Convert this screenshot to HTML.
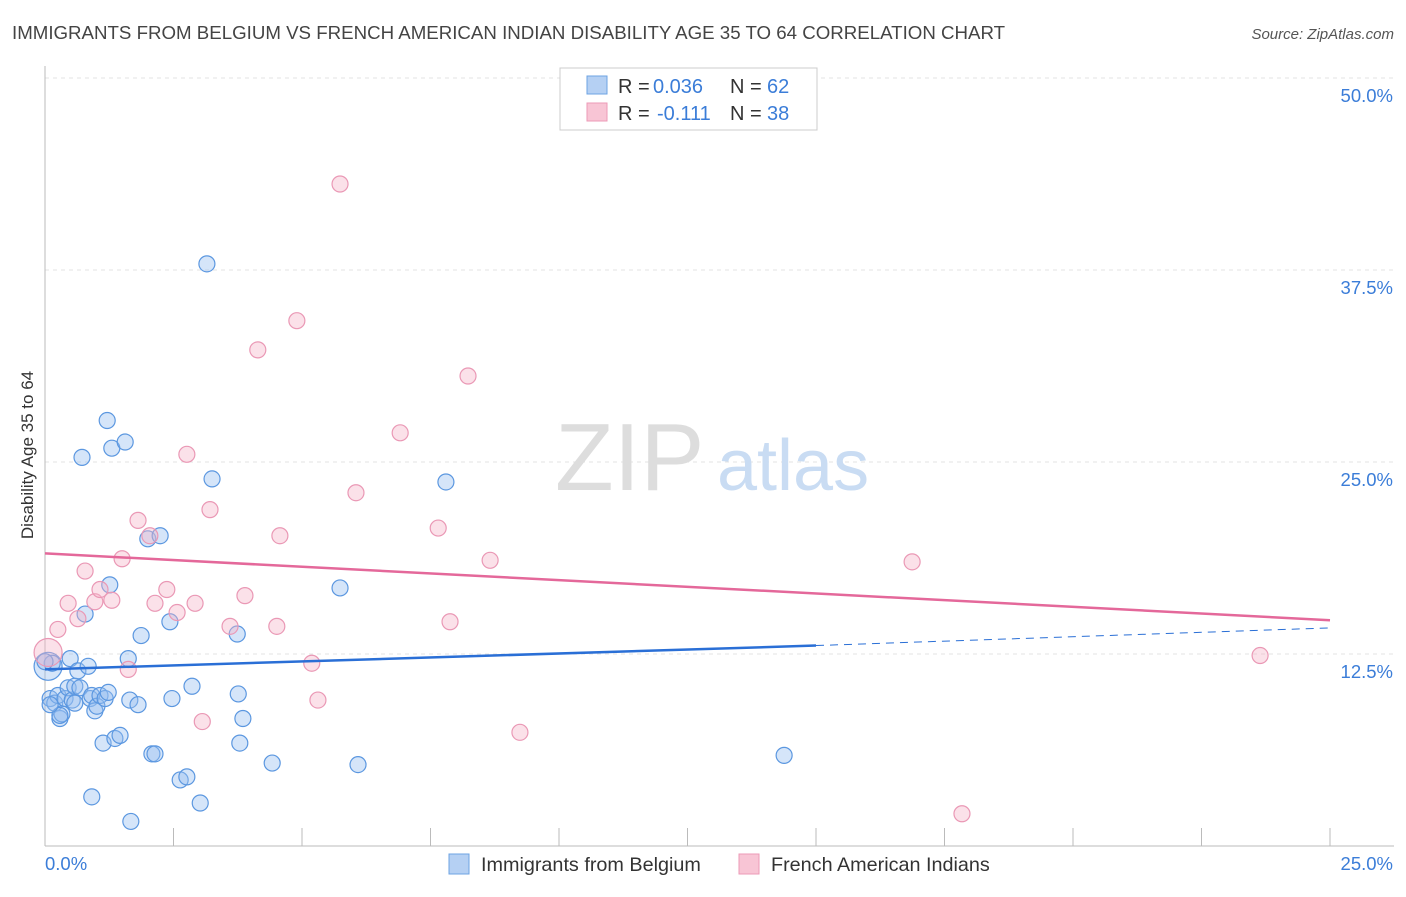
<!DOCTYPE html>
<html><head><meta charset="utf-8"><style>
body{margin:0;background:#fff;font-family:"Liberation Sans",sans-serif;}
svg text{font-family:"Liberation Sans",sans-serif;}
</style></head><body>
<svg id="chart" width="1406" height="892" xmlns="http://www.w3.org/2000/svg">
<text x="12" y="39" font-size="18.7" fill="#444">IMMIGRANTS FROM BELGIUM VS FRENCH AMERICAN INDIAN DISABILITY AGE 35 TO 64 CORRELATION CHART</text>
<text x="1394" y="39" font-size="15" fill="#555" text-anchor="end" font-style="italic">Source: ZipAtlas.com</text>
<g id="grid"></g>
<text x="555" y="490" font-size="96" font-family="Liberation Serif" fill="#ddd">ZIP</text>
<text x="717" y="490" font-size="72" fill="#c9dcf3">atlas</text>
<g id="pts"></g>
<g id="lines"></g>
<text transform="translate(33,455) rotate(-90)" font-size="17" fill="#333" text-anchor="middle">Disability Age 35 to 64</text>
<g>
<rect x="560" y="68" width="257" height="62" fill="#fff" stroke="#ccc"/>
<rect x="587" y="76" width="20" height="18" fill="#b5d0f3" stroke="#6da3e3"/>
<rect x="587" y="103" width="20" height="18" fill="#f8c5d5" stroke="#ec9ab7"/>
<text x="618" y="93" font-size="20" fill="#333">R =</text>
<text x="653" y="93" font-size="20" fill="#3b7dd8">0.036</text>
<text x="730" y="93" font-size="20" fill="#333">N =</text>
<text x="767" y="93" font-size="20" fill="#3b7dd8">62</text>
<text x="618" y="120" font-size="20" fill="#333">R =</text>
<text x="657" y="120" font-size="20" fill="#3b7dd8">-0.111</text>
<text x="730" y="120" font-size="20" fill="#333">N =</text>
<text x="767" y="120" font-size="20" fill="#3b7dd8">38</text>
</g>
<g>
<rect x="449" y="854" width="20" height="20" fill="#b5d0f3" stroke="#6da3e3"/>
<text x="481" y="871" font-size="19.8" fill="#333">Immigrants from Belgium</text>
<rect x="739" y="854" width="20" height="20" fill="#f8c5d5" stroke="#ec9ab7"/>
<text x="771" y="871" font-size="19.8" fill="#333">French American Indians</text>
</g>
</svg>
<script>
const yTicks=[12.5,25,37.5,50];
const yTickLabels=["12.5%","25.0%","37.5%","50.0%"];
const xTicks=[0,2.5,5,7.5,10,12.5,15,17.5,20,22.5,25];
const blueX=[0.06,0.14,0.1,0.19,0.29,0.33,0.25,0.39,0.45,0.49,0.53,0.58,0.64,0.68,0.78,0.84,0.72,0.88,0.91,0.97,1.01,1.07,1.13,1.17,1.21,1.23,1.26,1.3,1.36,1.46,1.56,1.62,1.65,1.67,1.81,1.87,2.0,2.08,2.14,2.24,2.43,2.47,2.63,2.76,2.86,3.02,3.15,3.25,3.74,3.76,3.79,3.85,4.42,5.74,6.09,7.8,14.38,0.91,0.29,0.0,0.1,0.58];
const blueY=[11.7,11.9,9.6,9.3,8.3,8.6,9.8,9.6,10.3,12.2,9.5,10.4,11.4,10.3,15.1,11.7,25.3,9.6,9.8,8.8,9.1,9.8,6.7,9.6,27.7,10.0,17.0,25.9,7.0,7.2,26.3,12.2,9.5,1.6,9.2,13.7,20.0,6.0,6.0,20.2,14.6,9.6,4.3,4.5,10.4,2.8,37.9,23.9,13.8,9.9,6.7,8.3,5.4,16.8,5.3,23.7,5.9,3.2,8.5,12.0,9.2,9.3];
const pinkX=[0.06,0.25,0.45,0.64,0.78,0.97,1.07,1.3,1.5,1.62,1.81,2.04,2.14,2.37,2.57,2.76,2.92,3.06,3.21,3.6,3.89,4.14,4.51,4.57,4.9,5.19,5.31,5.74,6.05,6.91,7.65,7.88,8.23,8.66,9.24,16.87,23.64,17.84];
const pinkY=[12.6,14.1,15.8,14.8,17.9,15.9,16.7,16.0,18.7,11.5,21.2,20.2,15.8,16.7,15.2,25.5,15.8,8.1,21.9,14.3,16.3,32.3,14.3,20.2,34.2,11.9,9.5,43.1,23.0,26.9,20.7,14.6,30.6,18.6,7.4,18.5,12.4,2.1];
const NS="http://www.w3.org/2000/svg";
const X0=45,X1=1330,Y0=846,YPX=768/50;
const sx=v=>X0+(v/25)*(X1-X0), sy=v=>Y0-v*YPX;
function mk(tag,attrs,parent){const e=document.createElementNS(NS,tag);for(const k in attrs)e.setAttribute(k,attrs[k]);parent.appendChild(e);return e;}
const grid=document.getElementById('grid');
yTicks.forEach((t,i)=>{
 const l=mk('line',{x1:X0,x2:1394,y1:sy(t),y2:sy(t),stroke:'#e3e3e3','stroke-dasharray':'4,4'},grid);
 
 
 const tx=mk('text',{x:1393,y:sy(t)+24,'font-size':18.5,fill:'#3b7dd8','text-anchor':'end'},grid);
 tx.textContent=yTickLabels[i];
 
 
});
const ax=mk('line',{x1:X0,x2:X0,y1:66,y2:846,stroke:'#bbb'},grid);


const bx=mk('line',{x1:X0,x2:1394,y1:846,y2:846,stroke:'#bbb'},grid);


xTicks.forEach(t=>{
 const l=mk('line',{x1:sx(t),x2:sx(t),y1:828,y2:846,stroke:'#bbb'},grid);
 
 
});
[[0,'0.0%','start',45],[25,'25.0%','end',1393]].forEach(d=>{
 const tx=mk('text',{x:d[3],y:870,'font-size':18.5,fill:'#3b7dd8','text-anchor':d[2]},grid);
 tx.textContent=d[1];
 
 
});
const pts=document.getElementById('pts');
blueX.forEach((x,i)=>{
 const c=mk('circle',{cx:sx(x),cy:sy(blueY[i]),r:i===0?14:8,fill:'rgba(150,190,240,0.4)',stroke:'#5b97e0','stroke-width':1.2},pts);
 
 
});
pinkX.forEach((x,i)=>{
 const c=mk('circle',{cx:sx(x),cy:sy(pinkY[i]),r:i===0?14:8,fill:'rgba(245,180,200,0.4)',stroke:'#ea98b5','stroke-width':1.2},pts);
 
 
});
const lines=document.getElementById('lines');
const bl=mk('line',{x1:sx(0),y1:sy(11.5),x2:sx(15),y2:sy(13.05),stroke:'#2a6fd6','stroke-width':2.5},lines);


const bd=mk('line',{x1:sx(15),y1:sy(13.05),x2:sx(25),y2:sy(14.2),stroke:'#2a6fd6','stroke-width':1,'stroke-dasharray':'8,6'},lines);


const pl=mk('line',{x1:sx(0),y1:sy(19.05),x2:sx(25),y2:sy(14.7),stroke:'#e4689a','stroke-width':2.5},lines);


</script>
</body></html>
